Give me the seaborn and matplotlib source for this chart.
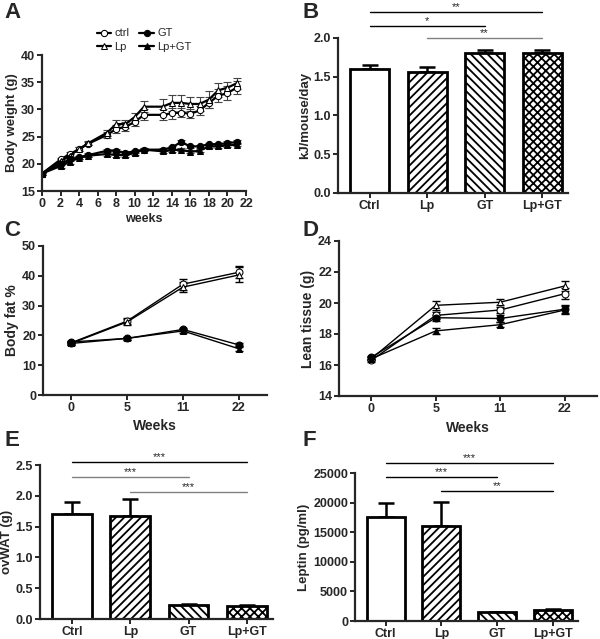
import matplotlib
matplotlib.use("Agg")
import matplotlib.pyplot as plt
import seaborn as sns
import numpy as np

sns.set_style("ticks")
plt.rcParams['font.family'] = ['Liberation Sans', 'DejaVu Sans']
plt.rcParams['font.weight'] = 'bold'
plt.rcParams['axes.labelweight'] = 'bold'
plt.rcParams['hatch.linewidth'] = 1.3

# ---- data ----
groups = ['Ctrl', 'Lp', 'GT', 'Lp+GT']
hatches = ['', '////', '\\\\\\\\', 'xxxx']

# A: body weight over time
weeks_a = [0, 2, 3, 4, 5, 7, 8, 9, 10, 11, 13, 14, 15, 16, 17, 18, 19, 20, 21]
bw_ctrl = [18.2, 20.8, 21.8, 22.7, 23.7, 25.3, 26.4, 26.8, 27.7, 29.0, 29.0, 29.3, 29.4, 29.2, 29.8, 31.2, 32.5, 33.0, 34.0]
bw_lp = [18.2, 20.5, 21.5, 22.7, 23.8, 25.7, 27.3, 27.3, 28.6, 30.5, 30.5, 31.2, 31.2, 31.0, 31.0, 31.8, 33.5, 34.0, 34.8]
bw_gt = [18.2, 20.0, 20.8, 21.2, 21.6, 22.4, 22.4, 22.0, 22.3, 22.6, 22.6, 23.0, 24.0, 23.2, 23.2, 23.6, 23.6, 23.8, 24.0]
bw_lpgt = [18.2, 19.6, 20.4, 21.1, 21.5, 21.8, 21.6, 21.6, 22.0, 22.6, 22.3, 22.5, 22.6, 22.2, 22.4, 23.2, 23.2, 23.4, 23.5]
bw_ctrl_err = [0.2, 0.3, 0.3, 0.3, 0.3, 0.5, 0.8, 0.8, 0.8, 1.0, 1.0, 1.0, 0.8, 0.8, 0.8, 1.0, 1.2, 1.3, 1.2]
bw_lp_err = [0.2, 0.3, 0.3, 0.3, 0.3, 0.6, 0.8, 0.8, 0.8, 1.0, 1.5, 1.5, 1.5, 1.3, 1.3, 1.5, 1.3, 1.1, 1.0]
bw_gt_err = [0.2, 0.3, 0.3, 0.3, 0.3, 0.3, 0.3, 0.3, 0.3, 0.3, 0.3, 0.3, 0.3, 0.3, 0.3, 0.3, 0.3, 0.3, 0.3]
bw_lpgt_err = [0.2, 0.4, 0.4, 0.3, 0.3, 0.4, 0.4, 0.4, 0.3, 0.3, 0.3, 0.3, 0.3, 0.3, 0.3, 0.3, 0.3, 0.3, 0.3]

# B: energy intake
kj = [1.60, 1.56, 1.81, 1.81]
kj_err = [0.05, 0.06, 0.03, 0.03]

# C, D: body composition
weeks_cd = ['0', '5', '11', '22']
fat_ctrl = [17.5, 24.8, 37.2, 41.2]
fat_lp = [17.3, 24.5, 36.2, 40.3]
fat_gt = [17.8, 19.0, 22.0, 16.8]
fat_lpgt = [17.3, 19.0, 21.5, 15.5]
fat_ctrl_err = [0.5, 1.0, 1.8, 2.0]
fat_lp_err = [0.5, 1.0, 1.8, 2.5]
fat_gt_err = [0.4, 0.5, 0.5, 0.5]
fat_lpgt_err = [0.4, 0.5, 0.7, 0.6]

lean_ctrl = [16.3, 19.2, 19.55, 20.6]
lean_lp = [16.4, 19.85, 20.05, 21.1]
lean_gt = [16.5, 19.05, 19.0, 19.6]
lean_lpgt = [16.4, 18.2, 18.6, 19.55]
lean_ctrl_err = [0.1, 0.25, 0.2, 0.35]
lean_lp_err = [0.1, 0.3, 0.2, 0.35]
lean_gt_err = [0.1, 0.2, 0.2, 0.25]
lean_lpgt_err = [0.1, 0.2, 0.15, 0.25]

# E: ovWAT, F: leptin
ovwat = [1.70, 1.68, 0.23, 0.21]
ovwat_err = [0.20, 0.27, 0.01, 0.01]
leptin = [17500, 16100, 1500, 1800]
leptin_err = [2400, 4000, 100, 250]

# significance brackets: (group i, group j, y, stars, colour)
sig_b = [(0, 3, 2.335, '**', 'black'), (0, 2, 2.155, '*', 'black'), (1, 3, 2.0, '**', 'grey')]
sig_e = [(0, 3, 2.55, '***', 'black'), (0, 2, 2.31, '***', 'grey'), (1, 3, 2.06, '***', 'grey')]
sig_f = [(0, 3, 26700, '***', 'black'), (0, 2, 24300, '***', 'black'), (1, 3, 21950, '**', 'black')]

series_style = [('ctrl', 'o', 'white'), ('Lp', '^', 'white'),
                ('GT', 'o', 'black'), ('Lp+GT', '^', 'black')]

W, H = 600, 639
fig = plt.figure(figsize=(W / 100, H / 100), dpi=100)


def axes_px(left, right, top, bottom):
    return fig.add_axes([left / W, 1 - bottom / H, (right - left) / W, (bottom - top) / H])


def style(ax):
    sns.despine(ax=ax)
    for s in ['left', 'bottom']:
        ax.spines[s].set_linewidth(1.6)
    ax.tick_params(width=1.4, length=3.5, pad=1.5, labelsize=9, direction='out')
    for lab in ax.get_xticklabels() + ax.get_yticklabels():
        lab.set_fontweight('bold')


def line_panel(ax, x, ys, errs, ms=5, lw=1.3, ecap=3, ecol='black', elw=1.0):
    for (name, mk, fc), y, e in zip(series_style, ys, errs):
        ax.errorbar(x, y, yerr=e, fmt='none', ecolor=ecol, elinewidth=elw, capsize=ecap, capthick=elw, zorder=1)
        sns.lineplot(x=x, y=y, ax=ax, color='black', marker=mk, markerfacecolor=fc,
                     markeredgecolor='black', markersize=ms, linewidth=lw, label=name, zorder=2)


def bar_panel(ax, vals, errs, sig, width=0.68):
    sns.barplot(x=groups, y=vals, ax=ax, color='white', edgecolor='black', linewidth=2,
                width=width, saturation=1, errorbar=None)
    for p, h in zip(ax.patches, hatches):
        p.set_hatch(h)
    ax.errorbar(range(4), vals, yerr=[np.zeros(4), errs], fmt='none', ecolor='black',
                elinewidth=1.8, capsize=6, capthick=1.8, zorder=0.5)
    for i, j, y, s, c in sig:
        ax.plot([i, j], [y, y], color=c, lw=1.0, clip_on=False)
        ax.text((i + j) / 2, y, s, ha='center', va='bottom', fontsize=8, fontweight='normal', clip_on=False)
    ax.set_xlim(-0.55, 3.45)


# ---- A ----
axA = axes_px(42, 246, 55, 191)
line_panel(axA, weeks_a, [bw_ctrl, bw_lp, bw_gt, bw_lpgt],
           [bw_ctrl_err, bw_lp_err, bw_gt_err, bw_lpgt_err], ms=4.5, lw=1.6, ecol='#444444', elw=0.8)
axA.set_xlim(0, 22)
axA.set_ylim(15, 40)
axA.set_xticks(range(0, 23, 2))
axA.set_yticks(range(15, 41, 5))
axA.set_xlabel('weeks', fontsize=9, labelpad=2)
axA.set_ylabel('Body weight (g)', fontsize=9.5, labelpad=2)
axA.legend(ncol=2, loc='lower center', bbox_to_anchor=(0.5, 0.975), frameon=False,
           handlelength=1.3, columnspacing=0.9, handletextpad=0.3, labelspacing=0.3,
           borderpad=0.1, prop={'weight': 'normal', 'size': 8})
style(axA)

# ---- B ----
axB = axes_px(338, 568, 38, 193)
bar_panel(axB, kj, kj_err, sig_b)
axB.set_ylim(0, 2.0)
axB.set_yticks(np.arange(0, 2.01, 0.5))
axB.set_ylabel('kJ/mouse/day', fontsize=9.5, labelpad=2)
style(axB)

# ---- C ----
axC = axes_px(43, 267, 246, 395)
xpos = list(range(len(weeks_cd)))
line_panel(axC, xpos, [fat_ctrl, fat_lp, fat_gt, fat_lpgt],
           [fat_ctrl_err, fat_lp_err, fat_gt_err, fat_lpgt_err], ms=5, lw=1.0)
axC.legend_.remove()
axC.set_xlim(-0.5, 3.5)
axC.set_ylim(0, 50)
axC.set_xticks(xpos)
axC.set_xticklabels(weeks_cd)
axC.set_yticks(range(0, 51, 10))
axC.set_xlabel('Weeks', fontsize=10, labelpad=4)
axC.set_ylabel('Body fat %', fontsize=10, labelpad=2)
style(axC)

# ---- D ----
axD = axes_px(339, 597, 241, 396)
line_panel(axD, xpos, [lean_ctrl, lean_lp, lean_gt, lean_lpgt],
           [lean_ctrl_err, lean_lp_err, lean_gt_err, lean_lpgt_err], ms=5, lw=1.0)
axD.legend_.remove()
axD.set_xlim(-0.5, 3.5)
axD.set_ylim(14, 24)
axD.set_xticks(xpos)
axD.set_xticklabels(weeks_cd)
axD.set_yticks(range(14, 25, 2))
axD.set_xlabel('Weeks', fontsize=10, labelpad=4)
axD.set_ylabel('Lean tissue (g)', fontsize=10, labelpad=2)
style(axD)

# ---- E ----
axE = axes_px(40, 273, 465, 619)
bar_panel(axE, ovwat, ovwat_err, sig_e)
axE.set_ylim(0, 2.5)
axE.set_yticks(np.arange(0, 2.51, 0.5))
axE.set_ylabel('ovWAT (g)', fontsize=9.5, labelpad=2)
style(axE)

# ---- F ----
axF = axes_px(355, 578, 473, 621)
bar_panel(axF, leptin, leptin_err, sig_f)
axF.set_ylim(0, 25000)
axF.set_yticks(range(0, 25001, 5000))
axF.set_ylabel('Leptin (pg/ml)', fontsize=9.5, labelpad=2)
style(axF)

for letter, x, y in [('A', 4, 2), ('B', 302, 2), ('C', 4, 220), ('D', 302, 220), ('E', 4, 430), ('F', 302, 430)]:
    fig.text(x / W, 1 - y / H, letter, fontsize=16, fontweight='bold', va='top', ha='left')

fig.savefig('out.png', dpi=100)
